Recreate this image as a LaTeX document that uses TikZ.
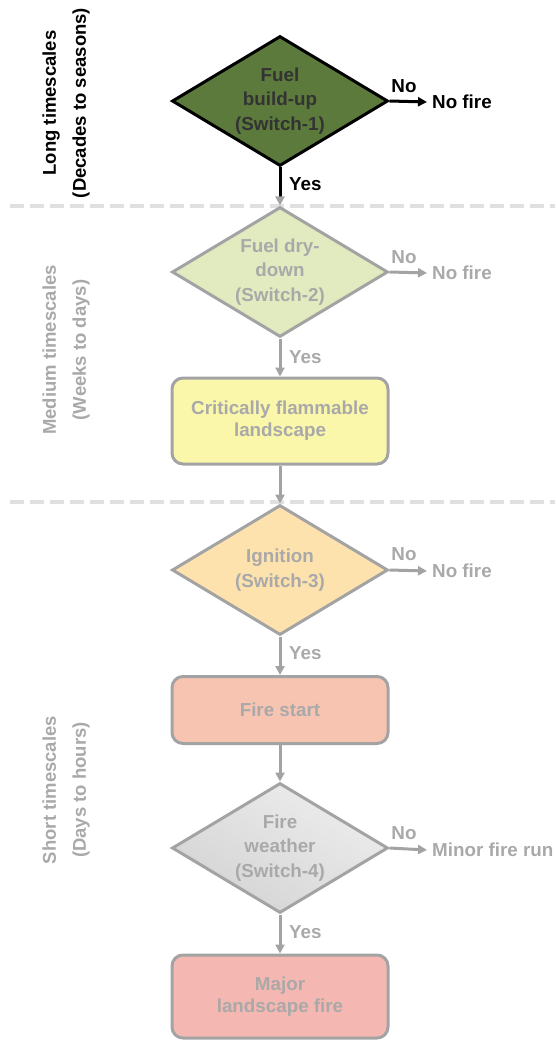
\documentclass[tikz,border=0pt]{standalone}
\usepackage{fontspec}
\setmainfont{Liberation Sans}
\usetikzlibrary{shapes.geometric,arrows.meta}
\definecolor{txtgrey}{HTML}{A9A9A9}
\definecolor{lngrey}{HTML}{A3A3A3}
\definecolor{dashgrey}{HTML}{E0E0E0}
\definecolor{darkgreen}{HTML}{5B7A3B}
\definecolor{lightgreen}{HTML}{E2EBC0}
\definecolor{lightyellow}{HTML}{FAF6AA}
\definecolor{lightorange}{HTML}{FDE2AE}
\definecolor{salmon}{HTML}{F7C4B2}
\definecolor{pinkred}{HTML}{F4B7B1}
\definecolor{darktext}{HTML}{333333}
\tikzset{
  txt/.style={font=\bfseries\fontsize{18.8}{24}\selectfont, inner sep=0pt},
  decision/.style={diamond, draw=lngrey, line width=3pt, minimum width=216pt, minimum height=130pt,
    inner sep=0pt, aspect=1.66, align=center, text=txtgrey, font=\bfseries\fontsize{18.8}{24.5}\selectfont},
  state/.style={rectangle, rounded corners=11pt, draw=lngrey, line width=3pt, minimum width=216pt,
    inner sep=0pt, align=center, text=txtgrey, font=\bfseries\fontsize{18.8}{22}\selectfont},
  conn/.style={draw=lngrey, line width=3pt, -{Triangle[length=9pt,width=9pt]}},
  blackconn/.style={draw=black, line width=3pt, -{Triangle[length=9pt,width=9pt]}},
  sep/.style={draw=dashgrey, line width=4pt, dash pattern=on 14pt off 6pt},
  sidelabel/.style={txt, rotate=90, align=center, font=\bfseries\fontsize{18.5}{30}\selectfont},
  outtext/.style={txt, anchor=west, inner sep=5pt},
}
\begin{document}
\begin{tikzpicture}[x=1pt, y=-1pt]
\useasboundingbox (0,0) rectangle (555,1040);
% separators
\draw[sep] (10,206) -- (555,206);
\draw[sep] (10,502) -- (555,502);
% side labels
\node[sidelabel, text=black] (long) at (66,103) {Long timescales\\(Decades to seasons)};
\node[sidelabel, text=txtgrey] (medium) at (66,350) {Medium timescales\\(Weeks to days)};
\node[sidelabel, text=txtgrey] (short) at (66,790) {Short timescales\\(Days to hours)};
% decisions and states
\node[decision, fill=darkgreen, draw=black, text=darktext] (d1) at (280,101) {Fuel\\build-up\\(Switch-1)};
\node[decision, fill=lightgreen] (d2) at (280,272) {Fuel dry-\\down\\(Switch-2)};
\node[state, fill=lightyellow, minimum height=86pt] (b1) at (280,421) {Critically flammable\\landscape};
\node[decision, fill=lightorange] (d3) at (280,570) {Ignition\\(Switch-3)};
\node[state, fill=salmon, minimum height=67pt] (b2) at (280,710) {Fire start};
\node[decision, left color=white!93!black, right color=white!83!black, shading angle=-30] (d4) at (280,848) {Fire\\weather\\(Switch-4)};
\node[state, fill=pinkred, minimum height=83pt] (b3) at (280,996.5) {Major\\landscape fire};
% outcomes
\node[outtext, text=black] (o1) at (427,102) {No fire};
\node[outtext, text=txtgrey] (o2) at (427,273) {No fire};
\node[outtext, text=txtgrey] (o3) at (427,571) {No fire};
\node[outtext, text=txtgrey] (o4) at (427,850) {Minor fire run};
% labels
\node[txt, text=black] (n1) at (404,86) {No};
\node[txt, text=txtgrey] (n2) at (404,257) {No};
\node[txt, text=txtgrey] (n3) at (404,554) {No};
\node[txt, text=txtgrey] (n4) at (404,833) {No};
\node[txt, text=black, anchor=west] (y1) at (289,184) {Yes};
\node[txt, text=txtgrey, anchor=west] (y2) at (289,357) {Yes};
\node[txt, text=txtgrey, anchor=west] (y3) at (289,653) {Yes};
\node[txt, text=txtgrey, anchor=west] (y4) at (289,932) {Yes};
% connectors
\coordinate (c1) at (280,197);
\draw[draw=black, line width=3pt] (d1.south) -- (c1);
\draw[conn] (c1) -- (d2.north);
\draw[conn] (d2.south) -- (b1.north);
\draw[conn] (b1.south) -- (d3.north);
\draw[conn] (d3.south) -- (b2.north);
\draw[conn] (b2.south) -- (d4.north);
\draw[conn] (d4.south) -- (b3.north);
\draw[blackconn] (d1.east) -- (o1.west);
\draw[conn] (d2.east) -- (o2.west);
\draw[conn] (d3.east) -- (o3.west);
\draw[conn] (d4.east) -- (o4.west);
\end{tikzpicture}
\end{document}
